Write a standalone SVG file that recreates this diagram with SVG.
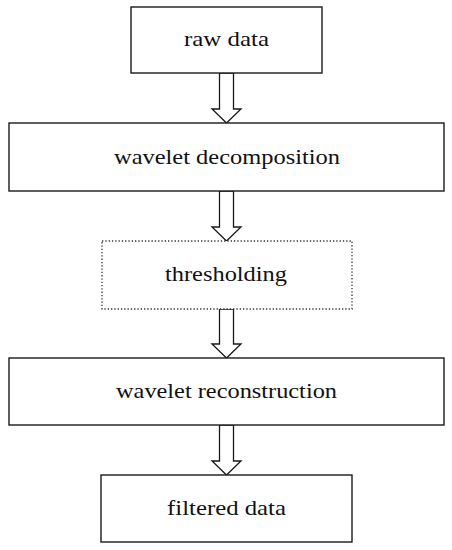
<svg xmlns="http://www.w3.org/2000/svg" width="452" height="550" viewBox="0 0 452 550">
<style>
.box{fill:#fff;stroke:#1a1a1a;stroke-width:1.4}
.dot{fill:#fff;stroke:#333;stroke-width:1.3;stroke-dasharray:1.3 2}
.arr{fill:#fff;stroke:#1a1a1a;stroke-width:1.3;stroke-linejoin:miter}
text{font-family:"Liberation Serif","Times New Roman",serif;font-size:22px;fill:#111;text-anchor:middle}
</style>
<rect width="452" height="550" fill="#fff"/>
<g id="connectors">
<polygon class="arr" points="219.5,73 233.5,73 233.5,109 241,109 226.5,123 212,109 219.5,109"/>
<polygon class="arr" points="219.5,191 233.5,191 233.5,227 241,227 226.5,241 212,227 219.5,227"/>
<polygon class="arr" points="219.5,309 233.5,309 233.5,344 241,344 226.5,358 212,344 219.5,344"/>
<polygon class="arr" points="219.5,425 233.5,425 233.5,461 241,461 226.5,475 212,461 219.5,461"/>
</g>
<g id="raw-data">
<rect class="box" x="131" y="7" width="191" height="66"/>
<text x="226.5" y="46" textLength="85" lengthAdjust="spacingAndGlyphs">raw data</text>
</g>
<g id="wavelet-decomposition">
<rect class="box" x="9" y="123" width="435" height="68"/>
<text x="227" y="164" textLength="226" lengthAdjust="spacingAndGlyphs">wavelet decomposition</text>
</g>
<g id="thresholding">
<rect class="dot" x="102" y="241" width="250" height="68"/>
<text x="226" y="281" textLength="122" lengthAdjust="spacingAndGlyphs">thresholding</text>
</g>
<g id="wavelet-reconstruction">
<rect class="box" x="9" y="358" width="435" height="67"/>
<text x="226.5" y="398" textLength="221" lengthAdjust="spacingAndGlyphs">wavelet reconstruction</text>
</g>
<g id="filtered-data">
<rect class="box" x="101" y="475" width="251" height="67"/>
<text x="226.5" y="515" textLength="119" lengthAdjust="spacingAndGlyphs">filtered data</text>
</g>
</svg>
